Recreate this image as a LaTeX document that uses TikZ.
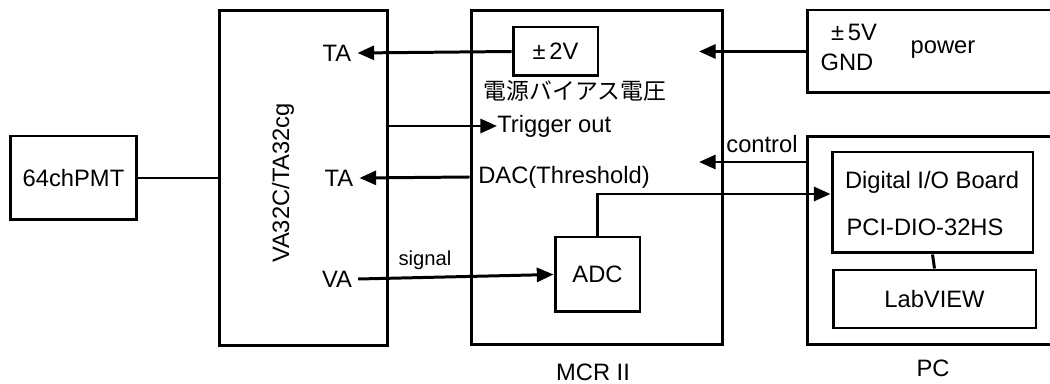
\documentclass[tikz,border=0pt]{standalone}
\usepackage{fontspec}
\setmainfont{Liberation Sans}
\newfontfamily\jpfont{Noto Sans CJK JP}
\usepackage{tikz}
\usetikzlibrary{arrows.meta}

\tikzset{
  box/.style={draw, line width=1.7pt, inner sep=0pt},
  lbl/.style={font=\fontsize{13.5}{16}\selectfont},
  arr/.style={line width=1.7pt, -{Triangle[length=9.5pt,width=8pt]}},
  wire/.style={line width=1.7pt}
}

\begin{document}
\begin{tikzpicture}[x=0.02cm,y=-0.02cm]
% Page size and crop of the open boxes on the right
\useasboundingbox (0,0) rectangle (1050,384);
\clip (0,0) rectangle (1050,384);

% Main blocks
\node[box,lbl,minimum width=2.54cm,minimum height=1.68cm] (pmt) at (73.5,178) {64chPMT};
\node[box,minimum width=3.38cm,minimum height=6.72cm] (va) at (303.5,178) {};
\node[lbl,rotate=90] (vaname) at (283,183) {VA32C/TA32cg};
\node[box,minimum width=5.04cm,minimum height=6.7cm] (mcr) at (597,177.5) {};
\node[box,minimum width=5.06cm,minimum height=1.66cm] (power) at (933.5,51.5) {};
\node[box,minimum width=5.06cm,minimum height=4.18cm] (pc) at (933.5,240.5) {};

% Inner blocks
\node[box,lbl,minimum width=1.7cm,minimum height=0.98cm] (bias) at (555.5,51.5) {±\,2V};
\node[box,lbl,minimum width=1.7cm,minimum height=1.5cm] (adc) at (597.5,274.5) {ADC};
\node[box,minimum width=4.02cm,minimum height=2.02cm] (dio) at (932.5,202.5) {};
\node[box,lbl,minimum width=4.06cm,minimum height=1.16cm] (lab) at (934.5,299) {LabVIEW};

% Texts
\node[lbl] (taA) at (337,53) {TA};
\node[lbl] (taB) at (339,178) {TA};
\node[lbl] (vaL) at (337,279) {VA};
\node[lbl,font=\fontsize{13}{15}\selectfont\jpfont] (biasname) at (575,91) {電源バイアス電圧};
\node[lbl,anchor=west,inner sep=0pt] (trig) at (497,126) {Trigger out};
\node[lbl,anchor=west,inner sep=0pt] (dac) at (478,177) {DAC(Threshold)};
\node[lbl,font=\fontsize{11.5}{14}\selectfont] (sig) at (425,260) {signal};
\node[lbl] (ctl) at (762,144) {control};
\node[lbl] (pm5) at (854,32) {±\,5V};
\node[lbl] (gnd) at (847,62) {GND};
\node[lbl] (pwrname) at (943,50) {power};
\node[lbl] (dioA) at (932,182) {Digital I/O Board};
\node[lbl] (dioB) at (925,227) {PCI-DIO-32HS};
\node[lbl] (mcrname) at (593,372) {MCR II};
\node[lbl] (pcname) at (933,368) {PC};

% Free ends of the arrows into MCR II
\coordinate (pwrin) at (699,51.5);
\coordinate (ctlin) at (699,162);

% Connections
\draw[wire] (pmt.east) -- (va.west);
\draw[arr] (bias.west) -- (taA.east);
\draw[arr] (va.east |- trig.west) -- (trig.west);
\draw[arr] (mcr.west |- dac.west) -- (taB.east);
\draw[arr] (vaL.east) -- (adc.west);
\draw[arr] (adc.north) |- (dio.west |- 0,194);
\draw[arr] (power.west) -- (pwrin);
\draw[arr] (pc.west |- ctlin) -- (ctlin);
\draw[wire] (dio.south) -- (lab.north);

\end{tikzpicture}
\end{document}
